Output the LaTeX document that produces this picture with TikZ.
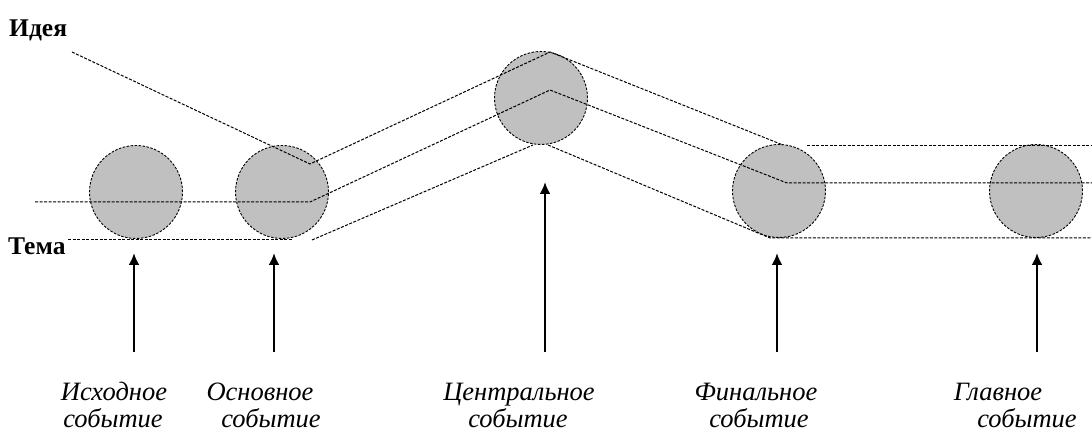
\documentclass[tikz,border=0pt]{standalone}
\usepackage{fontspec}
\setmainfont{Liberation Serif}
\usetikzlibrary{arrows.meta}
\definecolor{evgray}{HTML}{C0C0C0}
\begin{document}
\begin{tikzpicture}[x=1pt,y=-1pt,
  event/.style={circle, draw=black, line width=0.9pt, dash pattern=on 2.5pt off 1.5pt, fill=evgray, minimum size=93pt, inner sep=0pt},
  plot/.style={draw=black, line width=1pt, dash pattern=on 3pt off 1.5pt},
  pointer/.style={draw=black, line width=2.4pt, -{Latex[length=12pt,width=11pt]}},
  caption/.style={font=\fontsize{26.5}{30}\selectfont\itshape, anchor=base, inner sep=0pt},
  axislabel/.style={font=\fontsize{25.5}{30}\selectfont\bfseries, anchor=base west, inner sep=0pt}]
\useasboundingbox (0,0) rectangle (1092,435);
% events
\node[event] (e1) at (136,192) {};
\node[event] (e2) at (282,192) {};
\node[event] (e3) at (541,98) {};
\node[event] (e4) at (779,191) {};
\node[event] (e5) at (1036,191) {};
% idea line
\coordinate (i0) at (72,52);
\coordinate (i1) at (310,164);
\coordinate (i2) at (550,52);
\coordinate (i3) at (783,145);
\coordinate (i4) at (807,146);
\coordinate (i5) at (1092,146);
\draw[plot] (i0) -- (i1) -- (i2) -- (i3);
\draw[plot] (i4) -- (i5);
% middle line
\coordinate (m0) at (35,202);
\coordinate (m1) at (310,202);
\coordinate (m2) at (550,90);
\coordinate (m3) at (787,183);
\coordinate (m4) at (1092,183);
\draw[plot] (m0) -- (m1) -- (m2) -- (m3) -- (m4);
% theme line
\coordinate (t0) at (68,240);
\coordinate (t1) at (293,240);
\coordinate (t2) at (312,240);
\coordinate (t3) at (533,145);
\coordinate (t4) at (548,145);
\coordinate (t5) at (770,238);
\coordinate (t6) at (1092,238);
\draw[plot] (t0) -- (t1);
\draw[plot] (t2) -- (t3);
\draw[plot] (t4) -- (t5) -- (t6);
% axis labels
\node[axislabel] (idea) at (9,37) {Идея};
\node[axislabel] (theme) at (8,255) {Тема};
% arrows
\coordinate (a1s) at (134,352); \coordinate (a1e) at (134,253);
\coordinate (a2s) at (274,352); \coordinate (a2e) at (274,253);
\coordinate (a3s) at (545,352); \coordinate (a3e) at (545,182);
\coordinate (a4s) at (777,352); \coordinate (a4e) at (777,253);
\coordinate (a5s) at (1037,352); \coordinate (a5e) at (1037,253);
\draw[pointer] (a1s) -- (a1e);
\draw[pointer] (a2s) -- (a2e);
\draw[pointer] (a3s) -- (a3e);
\draw[pointer] (a4s) -- (a4e);
\draw[pointer] (a5s) -- (a5e);
% captions
\node[caption] (c1a) at (114,400) {Исходное};
\node[caption] (c1b) at (113,427) {событие};
\node[caption] (c2a) at (260,400) {Основное};
\node[caption] (c2b) at (271,427) {событие};
\node[caption] (c3a) at (519,400) {Центральное};
\node[caption] (c3b) at (518,427) {событие};
\node[caption] (c4a) at (756,400) {Финальное};
\node[caption] (c4b) at (759,427) {событие};
\node[caption] (c5a) at (998,400) {Главное};
\node[caption] (c5b) at (1027,427) {событие};
\end{tikzpicture}
\end{document}
